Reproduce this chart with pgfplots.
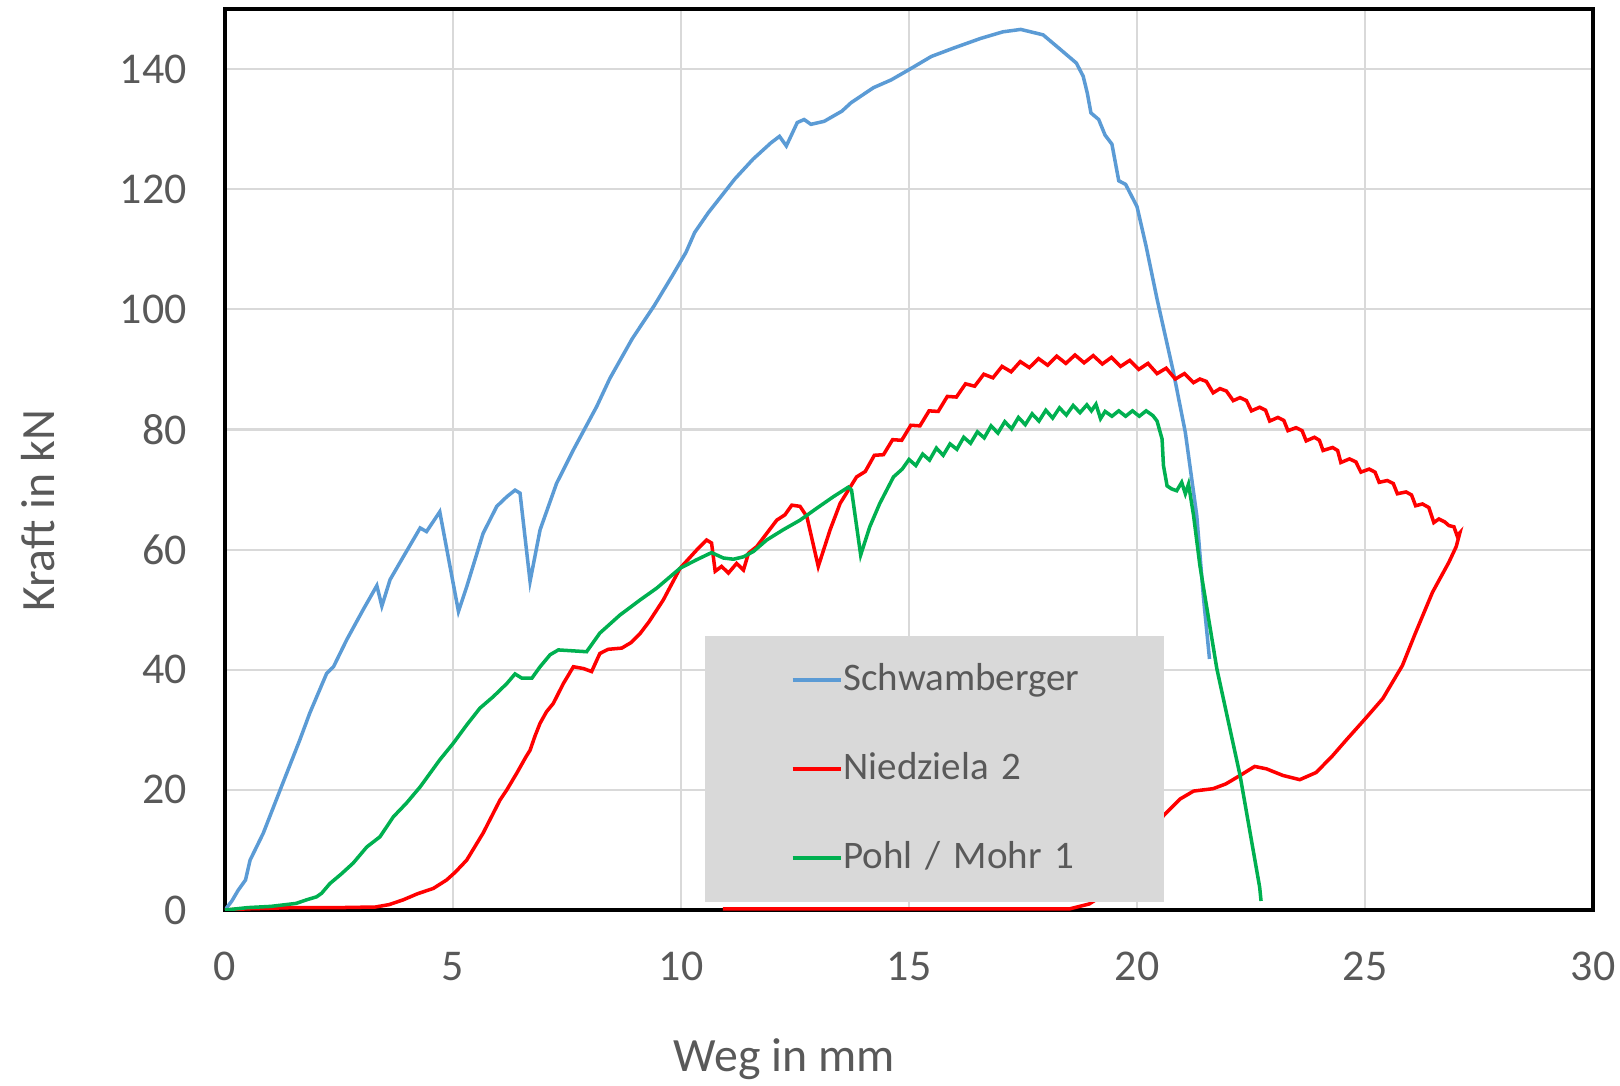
\documentclass[border=0pt]{standalone}
\usepackage{fontspec}
\setmainfont{Carlito}
\usepackage{pgfplots}
\pgfplotsset{compat=1.18}

\definecolor{schw}{HTML}{5B9BD5}
\definecolor{nied}{HTML}{FF0000}
\definecolor{pohl}{HTML}{00B050}
\definecolor{gridgray}{HTML}{D9D9D9}
\definecolor{txtgray}{HTML}{595959}
\definecolor{leggray}{HTML}{D9D9D9}

\begin{document}
\begin{tikzpicture}
\begin{axis}[
  scale only axis,
  width=13.68cm, height=9.01cm,
  xmin=0, xmax=30, ymin=0, ymax=150,
  xtick={0,5,...,30}, ytick={0,20,...,140},
  grid=major,
  grid style={color=gridgray, line width=0.6pt},
  axis line style={black, line width=1pt},
  major tick length=0pt,
  tick label style={font=\fontsize{12.5}{15}\selectfont, text=txtgray,
    /pgf/number format/assume math mode=true},
  yticklabel style={xshift=-2.6mm},
  xticklabel style={yshift=-3.0mm},
  label style={font=\fontsize{13.6}{16}\selectfont, text=txtgray},
  xlabel={Weg in mm},
  ylabel={Kraft in kN},
  xlabel style={at={(axis description cs:0.409,-0.165)}, anchor=center},
  ylabel style={at={(axis description cs:-0.137,0.443)}, anchor=center},
  legend cell align=left,
  legend style={at={(axis description cs:0.350,0.0078)}, anchor=south west,
    fill=leggray, draw=none, inner xsep=0pt, inner ysep=0.215cm,
    row sep=0.44cm, font=\fontsize{11.1}{13}\selectfont, text=txtgray,
    nodes={inner xsep=0pt, inner ysep=0pt, text height=0.33cm,
      text depth=0.12cm, text width=3.2cm, align=left}},
  legend image code/.code={
    \path[draw=none] (0cm,0cm) -- (1.39cm,0cm);
    \draw[#1, line width=1.1pt] (0.88cm,0cm) -- (1.36cm,0cm);},
  no marks,
]
% Schwamberger
\addplot[schw, line width=1pt] coordinates {
(0,0) (0.15,1.5) (0.29,3.3) (0.45,5.0) (0.55,8.3) (0.84,12.8) (1.21,20.0)
(1.64,28.3) (1.86,32.8) (2.23,39.4) (2.38,40.5) (2.67,45.0) (3.03,50.0)
(3.33,54.0) (3.44,50.6) (3.62,55.0) (3.91,58.8) (4.28,63.6) (4.42,63.0)
(4.71,66.3) (5.12,49.7) (5.30,53.8) (5.66,62.7) (5.96,67.2) (6.18,68.8)
(6.36,69.9) (6.47,69.4) (6.69,54.7) (6.91,63.3) (7.27,71.0) (7.64,76.6)
(8.15,83.8) (8.44,88.5) (8.93,95.1) (9.42,100.7) (9.81,105.6) (10.11,109.5)
(10.30,112.8) (10.60,116.1) (10.89,118.9) (11.18,121.7) (11.58,125.0)
(11.97,127.7) (12.16,128.8) (12.31,127.2) (12.55,131.1) (12.70,131.6)
(12.85,130.8) (13.14,131.3) (13.53,133.0) (13.73,134.4) (14.22,136.9)
(14.61,138.2) (15.00,139.9) (15.49,142.1) (15.98,143.5) (16.57,145.1)
(17.06,146.2) (17.45,146.6) (17.94,145.7) (18.33,143.2) (18.67,141.0)
(18.82,138.8) (18.91,136.0) (18.99,132.7) (19.16,131.6) (19.30,129.0)
(19.45,127.5) (19.60,121.4) (19.75,120.8) (20.00,117.1) (20.20,110.5)
(20.44,101.7) (20.80,89.5) (21.06,79.5) (21.31,65.7) (21.46,51.8)
(21.59,41.8)
};
\addlegendentry{Schwamberger}
% Niedziela 2
\addplot[nied, line width=1pt] coordinates {
(0,0) (0.5,0.2) (1.5,0.4) (2.5,0.4) (3.3,0.5) (3.6,0.9) (3.91,1.7)
(4.22,2.7) (4.57,3.6) (4.86,5.0) (5.05,6.3) (5.30,8.3) (5.66,12.8)
(6.03,18.3) (6.18,20.0) (6.40,22.8) (6.60,25.5) (6.69,26.6) (6.80,29.0)
(6.91,31.1) (7.05,33.0) (7.20,34.4) (7.42,37.7) (7.64,40.5) (7.86,40.2)
(8.04,39.7) (8.22,42.7) (8.40,43.4) (8.70,43.6) (8.90,44.5) (9.10,46.0)
(9.30,48.0) (9.61,51.6) (9.98,56.9) (10.34,59.9) (10.56,61.6) (10.67,61.1)
(10.75,56.4) (10.89,57.2) (11.04,56.1) (11.22,57.7) (11.37,56.6)
(11.48,59.4) (11.66,60.5) (11.88,62.7) (12.10,64.9) (12.28,65.8)
(12.43,67.4) (12.61,67.2) (12.76,65.5) (13.01,57.2) (13.27,63.3)
(13.49,67.7) (13.67,69.9) (13.85,72.1)
(14.04,73.0) (14.24,75.7) (14.44,75.8) (14.64,78.3) (14.84,78.2)
(15.04,80.7) (15.24,80.6) (15.44,83.1) (15.64,83.0) (15.84,85.5)
(16.04,85.4) (16.24,87.6) (16.44,87.2) (16.64,89.2) (16.84,88.6)
(17.04,90.5) (17.24,89.6) (17.44,91.3) (17.64,90.3) (17.84,91.8)
(18.04,90.7) (18.24,92.2) (18.44,91.0) (18.64,92.4) (18.84,91.1)
(19.04,92.3) (19.24,90.9) (19.44,92.0) (19.64,90.5) (19.84,91.5)
(20.04,90.0) (20.24,91.0) (20.44,89.3) (20.64,90.2) (20.84,88.4)
(21.04,89.3) (21.24,87.8) (21.38,88.4) (21.52,88.0) (21.67,86.1)
(21.82,86.8) (21.96,86.4) (22.11,84.8) (22.26,85.3) (22.40,84.8)
(22.51,83.1) (22.69,83.7) (22.82,83.2) (22.91,81.4) (23.09,82.0)
(23.22,81.5) (23.31,79.8) (23.49,80.3) (23.62,79.8) (23.71,78.1)
(23.89,78.7) (24.00,78.2) (24.08,76.5) (24.29,77.0) (24.40,76.5)
(24.47,74.5) (24.66,75.1) (24.80,74.6) (24.91,72.9) (25.09,73.4)
(25.22,72.9) (25.31,71.2) (25.49,71.5) (25.62,71.0) (25.71,69.3)
(25.90,69.6) (26.02,69.1) (26.11,67.3) (26.26,67.6) (26.40,67.0)
(26.51,64.5) (26.62,65.1) (26.75,64.6) (26.84,64.0) (26.95,63.8)
(27.02,62.3) (27.08,62.8) (27.00,60.5) (26.84,57.9) (26.48,52.9)
(26.10,46.0) (25.82,40.7) (25.39,35.2) (25.00,31.8) (24.60,28.4)
(24.29,25.7) (23.93,22.9) (23.57,21.7) (23.20,22.4) (22.84,23.5)
(22.58,23.9) (22.26,22.4) (21.95,21.0) (21.67,20.2) (21.24,19.8)
(20.95,18.5) (20.58,15.7) (20.20,11.5) (19.70,6.0) (19.20,2.2)
(18.95,1.0) (18.53,0.2) (10.92,0.2)
};
\addlegendentry{Niedziela 2}
% Pohl / Mohr 1
\addplot[pohl, line width=1pt] coordinates {
(0,0) (0.5,0.4) (1.0,0.6) (1.56,1.1) (1.79,1.7) (2.01,2.2) (2.12,2.8)
(2.30,4.4) (2.55,6.0) (2.81,7.8) (3.11,10.5) (3.40,12.2) (3.69,15.5)
(3.98,17.8) (4.28,20.5) (4.71,25.0) (5.01,27.8) (5.30,30.8) (5.59,33.6)
(5.88,35.5) (6.18,37.7) (6.36,39.3) (6.51,38.6) (6.73,38.6) (6.91,40.5)
(7.13,42.5) (7.31,43.3) (7.93,43.0) (8.22,46.1) (8.66,49.1) (9.10,51.6)
(9.47,53.6) (9.98,56.9) (10.34,58.3) (10.67,59.5) (10.93,58.6)
(11.15,58.4) (11.37,58.8) (11.59,59.7) (11.88,61.6) (12.24,63.3)
(12.61,64.9) (12.98,66.9) (13.34,68.8) (13.67,70.4) (13.74,69.9)
(13.94,59.1) (14.14,63.8) (14.36,67.7) (14.66,72.1) (14.85,73.4)
(15.00,75.0) (15.15,74.0) (15.30,75.9) (15.45,74.9) (15.60,76.9)
(15.75,75.7) (15.90,77.6) (16.05,76.7) (16.20,78.7) (16.35,77.7)
(16.50,79.6) (16.65,78.6) (16.80,80.6) (16.95,79.4) (17.10,81.3)
(17.25,80.1) (17.40,82.0) (17.55,80.8) (17.70,82.6) (17.85,81.4)
(18.00,83.2) (18.15,81.9) (18.30,83.6) (18.45,82.4) (18.60,84.0)
(18.75,82.8) (18.90,84.1) (19.00,83.1) (19.10,84.2) (19.20,81.8)
(19.30,83.0) (19.45,82.2) (19.60,83.1) (19.75,82.2) (19.90,83.1)
(20.05,82.2) (20.20,83.1) (20.35,82.3) (20.44,81.4) (20.55,78.4)
(20.58,74.0) (20.66,70.6) (20.76,70.1) (20.87,69.8) (20.98,71.2)
(21.06,69.3) (21.13,70.9) (21.24,65.7) (21.38,57.3) (21.75,40.2)
(22.26,22.4) (22.69,3.8) (22.72,1.5)
};
\addlegendentry{Pohl / Mohr 1}
\end{axis}
\pgfresetboundingbox
\path (-2.25cm,-1.75cm) rectangle (13.95cm,9.10cm);
\end{tikzpicture}
\end{document}
